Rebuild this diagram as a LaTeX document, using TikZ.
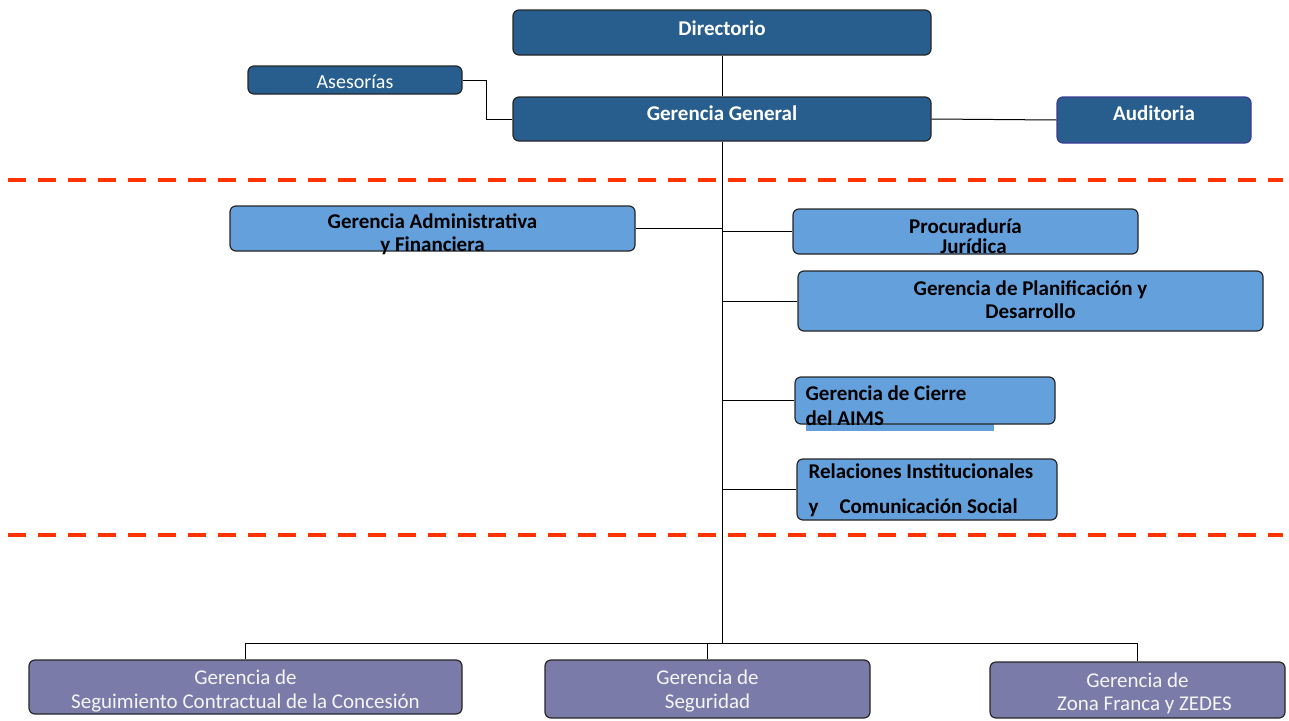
\documentclass[tikz,border=0pt]{standalone}
\usepackage{fontspec}
\setmainfont{Carlito}
\definecolor{darkblue}{RGB}{40,94,142}
\definecolor{lightblue}{RGB}{100,160,220}
\definecolor{lowpurple}{RGB}{122,123,168}
\definecolor{dashred}{RGB}{255,51,0}
\definecolor{auditborder}{RGB}{60,60,150}

\begin{document}
\begin{tikzpicture}[x=1pt,y=-1pt,
  box/.style={draw=black!85, rounded corners=6pt, line width=1.2pt, inner sep=0pt},
  topbox/.style={box, fill=darkblue},
  midbox/.style={box, fill=lightblue},
  lowbox/.style={box, fill=lowpurple},
  toptxt/.style={inner sep=0pt, align=center, text=white, font=\bfseries\fontsize{21}{23}\selectfont},
  midtxt/.style={inner sep=0pt, align=center, text=black, font=\bfseries\fontsize{21}{23}\selectfont},
  lowtxt/.style={inner sep=0pt, align=center, text=white!96!black, font=\fontsize{21}{24}\selectfont},
  redline/.style={draw=dashred, line width=4pt, dash pattern=on 18pt off 12pt},
  link/.style={draw=black, line width=1pt}]
\useasboundingbox (0,0) rectangle (1289,720);

% upper level
\node[topbox, minimum width=418pt, minimum height=45pt,
  label={[toptxt, yshift=4.5pt]center:Directorio}] (dir) at (722,32.5) {};
\node[topbox, minimum width=418pt, minimum height=44pt,
  label={[toptxt, yshift=6pt]center:Gerencia General}] (gg) at (722,119) {};
\node[topbox, minimum width=214pt, minimum height=28pt,
  label={[toptxt, font=\fontsize{20}{22}\selectfont, yshift=-2pt]center:Asesorías}] (ase) at (355,80) {};
\node[topbox, draw=auditborder, minimum width=194pt, minimum height=46pt,
  label={[toptxt, yshift=7pt]center:Auditoria}] (aud) at (1154,120) {};

\draw[link] (dir) -- (gg);
\draw[link] (ase.east) -- ++(24,0) |- (gg.west);
\draw[link] (gg.east) -- (aud.west);

\draw[redline] (8,180) -- (1283,180);
\draw[redline] (8,535) -- (1283,535);

% staff level
\node[midbox, minimum width=405pt, minimum height=45pt,
  label={[midtxt, yshift=-6pt]center:Gerencia Administrativa\\y Financiera}] (adm) at (432.5,228.5) {};
\node[midbox, minimum width=345pt, minimum height=45pt,
  label={[midtxt, yshift=-4.5pt]center:Procuraduría\\[-3pt]\hspace*{16pt}Jurídica}] (proc) at (965.5,231.5) {};
\node[midbox, minimum width=465pt, minimum height=60pt,
  label={[midtxt, yshift=1.5pt]center:Gerencia de Planificación y\\Desarrollo}] (plan) at (1030.5,301) {};
\fill[lightblue] (806,424) rectangle (994,431);
\node[midbox, minimum width=260pt, minimum height=47pt,
  label={[midtxt, align=left, anchor=west, xshift=11pt, yshift=-5pt]west:Gerencia de Cierre\\[2pt]del AIMS}] (cierre) at (925,400.5) {};
\node[midbox, minimum width=260pt, minimum height=61pt,
  label={[midtxt, align=left, anchor=west, xshift=12pt, yshift=-1pt]west:Relaciones Institucionales\\[12pt]y\hspace{21pt}Comunicación Social}] (rel) at (927,489.5) {};

% operative level
\node[lowbox, minimum width=433pt, minimum height=54pt,
  label={[lowtxt, yshift=-4pt]center:Gerencia de\\Seguimiento Contractual de la Concesión}] (sc) at (245.5,687) {};
\node[lowbox, minimum width=325pt, minimum height=58pt,
  label={[lowtxt, yshift=-2pt]center:Gerencia de\\Seguridad}] (seg) at (707.5,689) {};
\node[lowbox, minimum width=295pt, minimum height=56pt,
  label={[lowtxt, font=\fontsize{21}{23}\selectfont, yshift=-3.5pt]center:Gerencia de\\\hspace*{14pt}Zona Franca y ZEDES}] (zf) at (1137.5,690) {};

\coordinate (trunk) at (722,643);
\draw[link] (gg.south) -- (trunk);
\draw[link] (adm.east) -- (adm.east -| trunk);
\draw[link] (proc.west) -- (proc.west -| trunk);
\draw[link] (plan.west) -- (plan.west -| trunk);
\draw[link] (cierre.west) -- (cierre.west -| trunk);
\draw[link] (rel.west) -- (rel.west -| trunk);
\draw[link] (sc.north) |- (trunk) -| (zf.north);
\draw[link] (seg.north) -- (seg.north |- trunk);
\end{tikzpicture}
\end{document}
